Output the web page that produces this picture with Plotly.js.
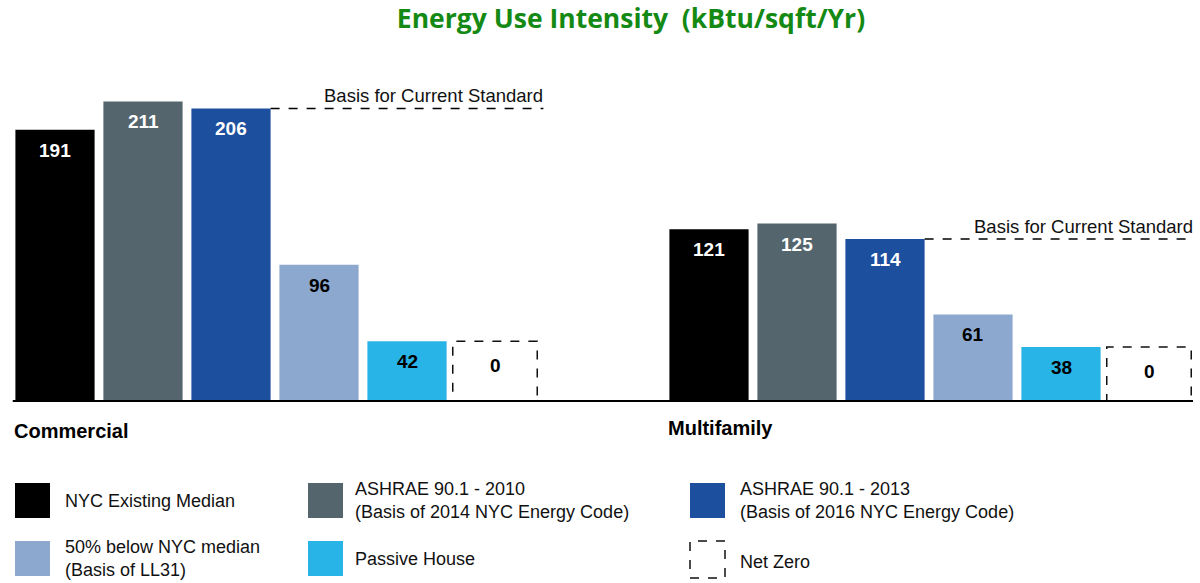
<!DOCTYPE html>
<html>
<head>
<meta charset="utf-8">
<script src="https://cdn.plot.ly/plotly-3.0.1.min.js"></script>
<style>html,body{margin:0;padding:0;background:#fff;}#chart{width:1200px;height:583px;}</style>
</head>
<body>
<div id="chart"></div>
<script>
// ---- data ----
const groups = ["Commercial", "Multifamily"];
const seriesNames = [
  "NYC Existing Median",
  "ASHRAE 90.1 - 2010<br>(Basis of 2014 NYC Energy Code)",
  "ASHRAE 90.1 - 2013<br>(Basis of 2016 NYC Energy Code)",
  "50% below NYC median<br>(Basis of LL31)",
  "Passive House",
  "Net Zero"
];
const nycMedian   = [191, 121];
const ashrae2010  = [211, 125];
const ashrae2013  = [206, 114];
const below50     = [96, 61];
const passiveHouse = [42, 38];
const netZero     = [0, 0];
const seriesColors = ["#000000", "#55656d", "#1c4f9e", "#8da8cf", "#28b4e6", "#ffffff"];
const textColors   = ["#ffffff", "#ffffff", "#ffffff", "#000000", "#000000", "#000000"];
const standardLabel = "Basis for Current Standard";

// ---- layout helpers ----
const W = 1200, H = 583;
const pxPerUnitX = 88, x0px = 55;
const baselinePx = 401, pxPerUnitY = 1.42;
const groupOffset = 654 / pxPerUnitX;
const barWidth = 0.9;
const pos = (g, i) => g * groupOffset + i;
const px = v => 1 - v / H; // container px (from top) -> paper y
const pxx = v => v / W;
const FONT = "Liberation Sans, Arial, sans-serif";

const values = [nycMedian, ashrae2010, ashrae2013, below50, passiveHouse, netZero];
const shapes = [];
const annotations = [];

const traces = values.slice(0, 5).map((vals, i) => ({
  type: "bar",
  x: groups.map((g, gi) => pos(gi, i)),
  y: vals,
  width: barWidth,
  name: seriesNames[i],
  marker: {color: seriesColors[i], line: {width: 0}},
  hoverinfo: "name+y",
  showlegend: false
}));

// value labels near the top of each bar
values.slice(0, 5).forEach((vals, i) => {
  vals.forEach((v, gi) => {
    annotations.push({xref: "x", yref: "y", x: pos(gi, i), y: v, yanchor: "top", yshift: -8, showarrow: false,
      text: String(v), font: {family: FONT, size: 19, color: textColors[i], weight: "bold"}});
  });
});

groups.forEach((g, gi) => {
  const c = pos(gi, 5);
  // net zero dashed boxes (drawn at passive house height as in the reference)
  shapes.push({type: "rect", xref: "x", yref: "y", x0: c - 0.48, x1: c + 0.48, y0: 0, y1: passiveHouse[gi],
    line: {color: "#111", width: 1.5, dash: "dash"}, fillcolor: "rgba(0,0,0,0)"});
  annotations.push({xref: "x", yref: "y", x: c, y: passiveHouse[gi], yanchor: "top", yshift: -12, showarrow: false,
    text: String(netZero[gi]), font: {family: FONT, size: 19, color: "#000", weight: "bold"}});
  // basis for current standard line
  const xs = pos(gi, 2) + barWidth / 2;
  const xe = pos(gi, 5) + 0.5 + (gi === 0 ? 0.05 : 0);
  shapes.push({type: "line", xref: "x", yref: "y", x0: xs, x1: xe, y0: ashrae2013[gi], y1: ashrae2013[gi],
    line: {color: "#000", width: 1.5, dash: "dash"}});
  annotations.push({xref: "x", yref: "y", x: xe, y: ashrae2013[gi], xanchor: "right", yanchor: "bottom", yshift: 0,
    xshift: 2, showarrow: false, text: standardLabel, font: {family: FONT, size: 18.5, color: "#111"}});
  // group labels
  annotations.push({xref: "x", yref: "y", x: pos(gi, 0) - barWidth / 2, y: 0, xanchor: "left", yanchor: "top",
    yshift: gi === 0 ? -17 : -14, xshift: -3, showarrow: false, text: g,
    font: {family: FONT, size: 20, color: "#000", weight: "bold"}});
});
// baseline
shapes.push({type: "line", xref: "x", yref: "y", x0: pos(0, 0) - barWidth / 2 - 0.03, x1: pos(1, 5) + 0.5, y0: 0, y1: 0,
  line: {color: "#000", width: 2}});

// ---- custom legend ----
const legCols = [[15, 63], [308, 353], [690, 738]];
const legRows = [[483, 518], [541, 576]];
seriesNames.forEach((name, i) => {
  const col = legCols[i % 3], row = legRows[Math.floor(i / 3)];
  const dashed = i === 5;
  shapes.push({type: "rect", xref: "paper", yref: "paper",
    x0: pxx(col[0]), x1: pxx(col[0] + 35), y0: px(row[1] + (dashed ? 2 : 0)), y1: px(row[0]),
    fillcolor: seriesColors[i], line: dashed ? {color: "#111", width: 1.5, dash: "dash"} : {width: 0}});
  annotations.push({xref: "paper", yref: "paper", x: pxx(col[1]), y: px((row[0] + row[1]) / 2 + (i === 5 ? 3 : 0)),
    xanchor: "left", yanchor: "middle", align: "left", showarrow: false, text: name,
    font: {family: FONT, size: 18, color: "#111"}});
});

const layout = {
  width: W, height: H,
  margin: {l: 0, r: 0, t: 0, b: 0},
  paper_bgcolor: "#fff", plot_bgcolor: "#fff",
  title: {text: "<b>Energy Use Intensity  (kBtu/sqft/Yr)</b>", x: 631 / W, xanchor: "center",
    y: 1 - 19 / H, yanchor: "middle", yref: "container",
    font: {family: "Open Sans, Noto Sans, sans-serif", size: 26.5, color: "#148a14"}},
  barmode: "overlay",
  xaxis: {range: [(0 - x0px) / pxPerUnitX, (W - x0px) / pxPerUnitX], visible: false, fixedrange: true},
  yaxis: {range: [(baselinePx - H) / pxPerUnitY, baselinePx / pxPerUnitY], visible: false, fixedrange: true},
  shapes: shapes,
  annotations: annotations,
  showlegend: false
};
Plotly.newPlot("chart", traces, layout, {displayModeBar: false, staticPlot: true});
</script>
</body>
</html>
